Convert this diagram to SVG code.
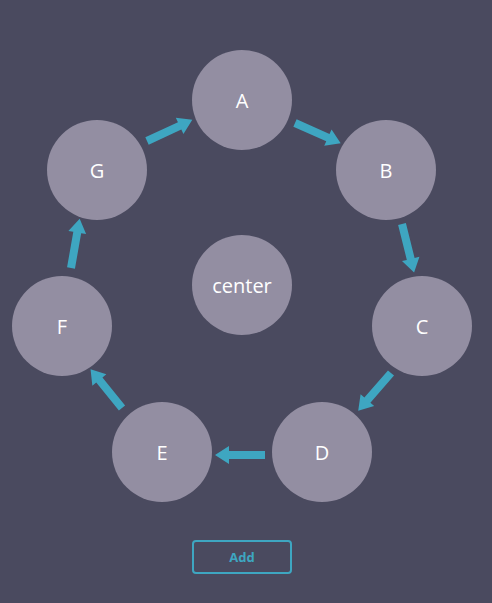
<svg xmlns="http://www.w3.org/2000/svg" width="492" height="603" viewBox="0 0 492 603">
<defs>
<style>
.node circle{fill:#938ea2}
.node text{fill:#ffffff;font-family:"Open Sans","Noto Sans",sans-serif;font-size:20px;text-anchor:middle;dominant-baseline:central}
.arrow{fill:#3ea6c1}
.btn rect{fill:none;stroke:#3ea6c1;stroke-width:2}
.btn text{fill:#3ea6c1;font-family:"Open Sans","Noto Sans",sans-serif;font-size:13px;font-weight:bold;text-anchor:middle;dominant-baseline:central}
</style>
<path id="arr" d="M0,-4 H36 V-9 L50,0 L36,9 V4 H0 Z"/>
</defs>
<rect width="492" height="603" fill="#4a4a5f"/>
<g id="connectors" class="arrow">
<use href="#arr" transform="translate(147,141) rotate(-25)"/>
<use href="#arr" transform="translate(295,123) rotate(24)"/>
<use href="#arr" transform="translate(402,224) rotate(76)"/>
<use href="#arr" transform="translate(391,373) rotate(131)"/>
<use href="#arr" transform="translate(265,455) rotate(180)"/>
<use href="#arr" transform="translate(122,408) rotate(-129)"/>
<use href="#arr" transform="translate(71,268) rotate(-80)"/>
</g>
<g id="node-A" class="node"><circle cx="242" cy="100" r="50"/><text x="242" y="100">A</text></g>
<g id="node-B" class="node"><circle cx="386" cy="170" r="50"/><text x="386" y="170">B</text></g>
<g id="node-C" class="node"><circle cx="422" cy="326" r="50"/><text x="422" y="326">C</text></g>
<g id="node-D" class="node"><circle cx="322" cy="452" r="50"/><text x="322" y="452">D</text></g>
<g id="node-E" class="node"><circle cx="162" cy="452" r="50"/><text x="162" y="452">E</text></g>
<g id="node-F" class="node"><circle cx="62" cy="326" r="50"/><text x="62" y="326">F</text></g>
<g id="node-G" class="node"><circle cx="97" cy="170" r="50"/><text x="97" y="170">G</text></g>
<g id="node-center" class="node"><circle cx="242" cy="285" r="50"/><text x="242" y="285">center</text></g>
<g id="add-button" class="btn"><rect x="193" y="541" width="98" height="32" rx="3"/><text x="242" y="557">Add</text></g>
</svg>
